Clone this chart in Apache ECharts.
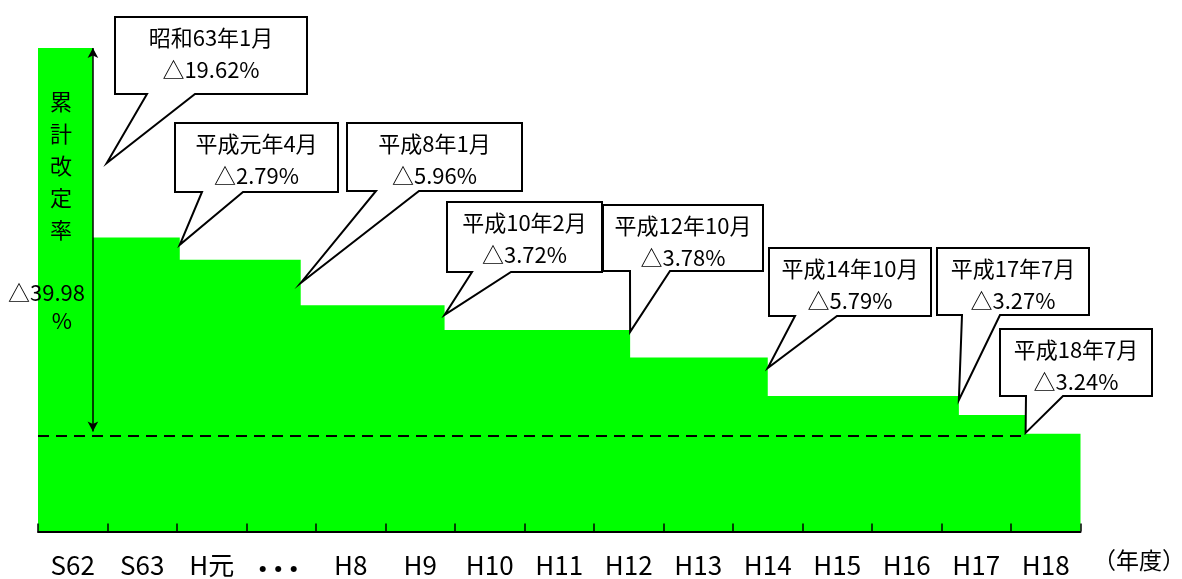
<!DOCTYPE html>
<html>
<head>
<meta charset="utf-8">
<script src="https://cdn.jsdelivr.net/npm/echarts@6/dist/echarts.min.js"></script>
<style>
  html, body { margin: 0; padding: 0; background: #fff; }
  #chart { width: 1182px; height: 579px; }
</style>
</head>
<body>
<div id="chart"></div>
<script>
// Fiscal years along the horizontal axis
const categories = ['S62', 'S63', 'H元', '･･･', 'H8', 'H9', 'H10', 'H11', 'H12', 'H13', 'H14', 'H15', 'H16', 'H17', 'H18'];

// Fee revisions: date, cut rate (%), position on the fiscal-year scale
const revisionDates = ['昭和63年1月', '平成元年4月', '平成8年1月', '平成10年2月', '平成12年10月', '平成14年10月', '平成17年7月', '平成18年7月'];
const revisionRates = [19.62, 2.79, 5.96, 3.72, 3.78, 5.79, 3.27, 3.24];
const revisionPos = [0.79, 2.04, 3.78, 5.85, 8.52, 10.50, 13.25, 14.21];

// Schematic fee level: before the first revision, then after each one
const feeLevels = [100, 60.8, 56.2, 46.8, 41.7, 36.0, 28.0, 24.1, 20.2];
const cumulativeRate = 39.98;

// Callout boxes (pixel rect, pointer base x-range) and pointer tip height on the value scale
const calloutBoxes = [
  [115, 17, 192, 77], [175, 123, 163, 69], [347, 123, 175, 68], [447, 202, 155, 70],
  [603, 205, 160, 66], [769, 248, 162, 68], [937, 248, 152, 67], [1000, 329, 152, 67]
];
const calloutBases = [[147, 195], [202, 243], [376, 419], [472, 511], [630, 670], [795, 837], [962, 1000], [1026, 1063]];
const calloutTipX = [0.99, null, null, null, null, null, null, null];
const calloutTipY = [76.2, 59.3, 51.4, 44.8, 41.3, 33.8, 27.2, 20.4];

const FONT = '"Noto Sans CJK JP", "Noto Sans", sans-serif';
const fmtRate = r => '△' + r.toFixed(2) + '%';

// step series: each point holds its level until the next revision
const stepData = [[0, feeLevels[0]]];
revisionPos.forEach((x, i) => stepData.push([x, feeLevels[i + 1]]));
stepData.push([categories.length, feeLevels[feeLevels.length - 1]]);

const finalLevel = feeLevels[feeLevels.length - 1];

const chart = echarts.init(document.getElementById('chart'), null, { renderer: 'canvas' });

chart.setOption({
  backgroundColor: '#ffffff',
  animation: false,
  grid: { left: 38, right: 101.5, top: 48, bottom: 47.5, outerBoundsMode: 'none' },
  xAxis: [
    {
      type: 'category',
      data: categories,
      boundaryGap: true,
      axisLine: { lineStyle: { color: '#000', width: 2 } },
      axisTick: { show: true, inside: true, length: 8, alignWithLabel: false, lineStyle: { color: '#000', width: 1.5 } },
      axisLabel: {
        color: '#000', fontSize: 26, fontFamily: FONT, margin: 21, interval: 0,
        // the skipped years are shown as a row of heavy dots
        formatter: v => v === '･･･' ? '{dots|' + v + '}' : v,
        rich: { dots: { fontSize: 31, fontWeight: 'bold', fontFamily: FONT, color: '#000', padding: [0, 6, 0, 0] } }
      },
      splitLine: { show: false },
      z: 10
    },
    {
      type: 'value',
      min: 0,
      max: categories.length,
      show: false
    }
  ],
  yAxis: { type: 'value', min: 0, max: 100, show: false },
  series: [{
    type: 'line',
    xAxisIndex: 1,
    yAxisIndex: 0,
    step: 'end',
    data: stepData,
    symbol: 'none',
    lineStyle: { width: 0 },
    areaStyle: { color: '#00ff00', opacity: 1 },
    z: 2,
    markLine: {
      silent: true,
      animation: false,
      label: { show: false },
      data: [
        [
          { coord: [0, finalLevel - 0.4], symbol: 'none', lineStyle: { color: '#000', width: 2, type: [11, 7] } },
          { coord: [revisionPos[revisionPos.length - 1], finalLevel - 0.4], symbol: 'none' }
        ],
        [
          { coord: [revisionPos[0], feeLevels[0]], symbol: 'arrow', symbolSize: [8, 10], lineStyle: { color: '#000', width: 1.5, type: 'solid' } },
          { coord: [revisionPos[0], finalLevel + 0.5], symbol: 'arrow', symbolSize: [8, 10] }
        ]
      ]
    }
  }]
});

// callouts, vertical caption and the year unit
function buildGraphics() {
  const els = [];
  revisionDates.forEach((d, i) => {
    const [bx, by, bw, bh] = calloutBoxes[i];
    const [b1, b2] = calloutBases[i];
    const tx = calloutTipX[i] != null ? calloutTipX[i] : revisionPos[i];
    const tip = chart.convertToPixel({ xAxisIndex: 1, yAxisIndex: 0 }, [tx, calloutTipY[i]]);
    const by2 = by + bh;
    els.push({
      type: 'polygon',
      z: 100,
      shape: { points: [[bx, by], [bx + bw, by], [bx + bw, by2], [b2, by2], tip, [b1, by2], [bx, by2]] },
      style: { fill: '#fff', stroke: '#000', lineWidth: 2, lineJoin: 'miter' }
    });
    els.push({
      type: 'text', z: 101, x: bx + bw / 2, y: by + 21,
      style: { text: d, fill: '#000', font: '22px ' + FONT, align: 'center', verticalAlign: 'middle' }
    });
    els.push({
      type: 'text', z: 101, x: bx + bw / 2, y: by + 53,
      style: { text: fmtRate(revisionRates[i]), fill: '#000', font: '22px ' + FONT, align: 'center', verticalAlign: 'middle' }
    });
  });
  els.push({
    type: 'text', z: 101, x: 61, y: 86,
    style: { text: '累\n計\n改\n定\n率', fill: '#000', font: '22px ' + FONT, align: 'center', verticalAlign: 'top', lineHeight: 32 }
  });
  els.push({
    type: 'text', z: 101, x: 85, y: 293,
    style: { text: '△' + cumulativeRate.toFixed(2), fill: '#000', font: '22px ' + FONT, align: 'right', verticalAlign: 'middle' }
  });
  els.push({
    type: 'text', z: 101, x: 62, y: 321,
    style: { text: '%', fill: '#000', font: '22px ' + FONT, align: 'center', verticalAlign: 'middle' }
  });
  els.push({
    type: 'text', z: 101, x: 1139, y: 560,
    style: { text: '（年度）', fill: '#000', font: '23px ' + FONT, align: 'center', verticalAlign: 'middle' }
  });
  return els;
}

chart.setOption({ graphic: { elements: buildGraphics() } });
</script>
</body>
</html>
